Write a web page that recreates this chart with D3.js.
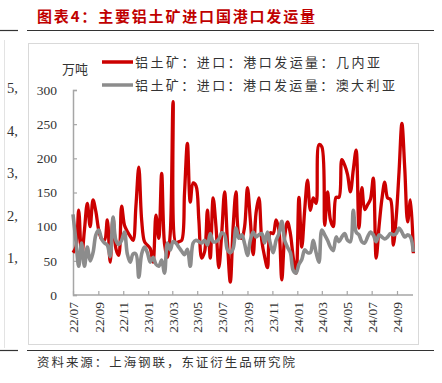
<!DOCTYPE html>
<html><head><meta charset="utf-8">
<script src="https://cdn.jsdelivr.net/npm/d3@7"></script>
<style>body{margin:0;background:#fff;} svg{display:block}</style>
</head><body><svg id="c" width="442" height="383"></svg>
<script>
const title = "图表4：主要铝土矿进口国港口发运量";
const source = "资料来源：上海钢联，东证衍生品研究院";
const unit = "万吨";
const seriesNames = ["铝土矿：进口：港口发运量：几内亚", "铝土矿：进口：港口发运量：澳大利亚"];
const firstWeek = "2022-07-01";
const guinea = [
  62,70,124,55,95,134,100,139,122,95,
  82,80,110,48,113,68,58,130,102,93,
  86,80,130,187,110,78,73,68,48,117,
  83,178,75,55,90,283,76,78,80,150,
  222,136,164,160,110,54,63,124,54,142,
  100,40,90,151,78,19,100,151,88,83,
  100,157,110,59,120,142,80,56,40,91,
  90,110,95,22,85,107,90,55,32,
  143,70,124,168,124,142,134,220,217,102,
  151,110,100,143,143,198,190,176,151,183,
  212,98,157,125,132,140,171,54,100,140,
  165,142,140,73,113,180,251,185,107,139,61
];
const australia = [
  118,80,42,76,42,70,50,62,88,95,
  82,76,73,56,114,80,74,80,92,60,
  48,60,60,26,60,70,62,48,55,45,
  42,51,32,76,66,78,76,70,64,59,
  67,42,76,80,78,76,80,73,90,78,
  78,82,91,88,66,62,68,98,83,88,
  75,58,80,92,85,88,90,76,92,75,
  62,80,90,108,80,70,62,36,32,
  45,52,66,62,62,80,62,48,95,88,
  80,70,65,85,78,85,90,80,78,124,
  92,88,78,76,85,92,88,78,88,85,
  82,85,90,88,90,98,92,85,88,85,63
];
const yTicks = [0, 50, 100, 150, 200, 250, 300];
const xTickLabels = ["22/07","22/09","22/11","23/01","23/03","23/05","23/07","23/09","23/11","24/01","24/03","24/05","24/07","24/09"];
const ghostLabels = ["5,", "4,", "3,", "2,", "1,"];
const ghostValues = [5, 4, 3, 2, 1];

const svg = d3.select("#c");
const serif = "'Liberation Serif','Times New Roman',serif";
const cjk = "'Noto Sans CJK SC','Noto Sans',sans-serif";

// frame pieces
svg.append("rect").attr("x", 28.5).attr("y", 43.5).attr("width", 390).attr("height", 301)
  .attr("fill", "none").attr("stroke", "#d9d9d9").attr("stroke-width", 1);
svg.append("line").attr("x1", 4.5).attr("x2", 4.5).attr("y1", 40).attr("y2", 348)
  .attr("stroke", "#e3e3e3");
[30.5, 350.5].forEach(yy => {
  svg.append("line").attr("x1", 0).attr("x2", 18).attr("y1", yy).attr("y2", yy).attr("stroke", "#333").attr("stroke-width", 1.2);
  svg.append("line").attr("x1", 27).attr("x2", 434).attr("y1", yy).attr("y2", yy).attr("stroke", "#333").attr("stroke-width", 1.2);
});

// title and source
svg.append("text").attr("x", 37).attr("y", 22).text(title)
  .attr("font-family", cjk).attr("font-weight", "bold").attr("font-size", 15)
  .attr("fill", "#c00000").attr("textLength", 278).attr("lengthAdjust", "spacing");
svg.append("text").attr("x", 37).attr("y", 367).text(source)
  .attr("font-family", cjk).attr("font-size", 12.5).attr("fill", "#333")
  .attr("textLength", 258).attr("lengthAdjust", "spacing");

// ghost labels from neighbouring chart
const gy = d3.scaleLinear().domain([5, 1]).range([88, 258]);
svg.append("g").selectAll("text").data(ghostLabels).join("text")
  .attr("x", 7).attr("y", (d, i) => gy(ghostValues[i])).attr("dy", "0.35em")
  .attr("font-family", serif).attr("font-size", 14.5).attr("fill", "#333").text(d => d);

// scales
const x = d3.scaleTime().domain([new Date(2022, 6, 1), new Date(2024, 8, 1)]).range([73, 397]);
const y = d3.scaleLinear().domain([0, 300]).range([295, 90]);
const start = d3.timeParse("%Y-%m-%d")(firstWeek);
const dates = guinea.map((_, i) => d3.timeWeek.offset(start, i));

// axes
const yAxis = d3.axisLeft(y).tickValues(yTicks).tickSize(-4).tickPadding(16);
const gY = svg.append("g").attr("transform", "translate(73,0)").call(yAxis);
gY.select(".domain").attr("stroke", "#a6a6a6").attr("stroke-width", 1.5);
gY.selectAll(".tick line").attr("stroke", "#a6a6a6").attr("stroke-width", 1.2);
gY.selectAll("text").attr("font-family", serif).attr("font-size", 13.5).attr("fill", "#333");

const parseM = d3.timeParse("%y/%m");
const xAxis = d3.axisBottom(x).tickValues(xTickLabels.map(parseM)).tickSize(-4).tickFormat(d3.timeFormat("%y/%m"));
const gX = svg.append("g").attr("transform", "translate(0,295)").call(xAxis);
gX.select(".domain").attr("stroke", "#a6a6a6").attr("stroke-width", 1.5)
  .attr("d", `M73,0H413`);
gX.selectAll(".tick line").attr("stroke", "#a6a6a6").attr("stroke-width", 1.2);
gX.selectAll("text").attr("font-family", serif).attr("font-size", 13.5).attr("fill", "#333")
  .attr("transform", "rotate(-90)").attr("text-anchor", "end")
  .attr("x", -7).attr("y", 0).attr("dy", "0.35em");

// lines
const line = d3.line().x((d, i) => x(dates[i])).y(d => y(d)).curve(d3.curveCatmullRom.alpha(0.5));
svg.append("path").datum(guinea).attr("d", line).attr("fill", "none")
  .attr("stroke", "#cc0000").attr("stroke-width", 3.3).attr("stroke-linejoin", "round");
svg.append("path").datum(australia).attr("d", line).attr("fill", "none")
  .attr("stroke", "#8c8c8c").attr("stroke-width", 3.6).attr("stroke-linejoin", "round");

// legend
const legendColors = ["#cc0000", "#8c8c8c"];
const lg = svg.append("g");
seriesNames.forEach((name, i) => {
  const yy = 62 + i * 23;
  lg.append("line").attr("x1", 102).attr("x2", 133).attr("y1", yy).attr("y2", yy)
    .attr("stroke", legendColors[i]).attr("stroke-width", 3.5);
  lg.append("text").attr("x", 135).attr("y", yy).attr("dy", "0.36em").text(name)
    .attr("font-family", cjk).attr("font-size", 13).attr("fill", "#333")
    .attr("textLength", i === 0 ? 245 : 260).attr("lengthAdjust", "spacing");
});
svg.append("text").attr("x", 62).attr("y", 69).attr("dy", "0.36em").text(unit)
  .attr("font-family", cjk).attr("font-size", 13).attr("fill", "#333");
</script></body></html>
